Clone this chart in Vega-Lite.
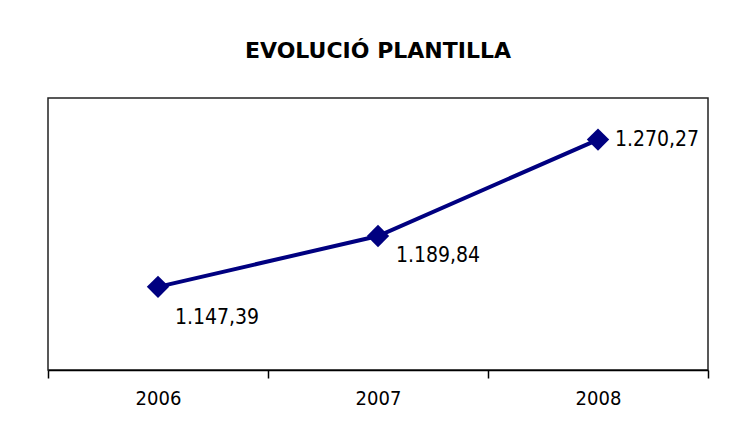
{
  "$schema": "https://vega.github.io/schema/vega-lite/v6.json",
  "width": 660,
  "height": 272,
  "autosize": {"type": "none"},
  "padding": {"left": 48, "top": 98, "right": 27, "bottom": 71},
  "background": "white",
  "title": {
    "text": "EVOLUCIÓ PLANTILLA",
    "anchor": "middle",
    "font": "DejaVu Sans",
    "fontSize": 22,
    "fontWeight": "bold",
    "color": "#000000",
    "offset": 35
  },
  "config": {
    "view": {"stroke": "#222222", "strokeWidth": 1.5},
    "font": "DejaVu Sans Condensed, DejaVu Sans"
  },
  "data": {
    "values": [
      {"year": "2006", "value": 1147.39, "label": "1.147,39"},
      {"year": "2007", "value": 1189.84, "label": "1.189,84"},
      {"year": "2008", "value": 1270.27, "label": "1.270,27"}
    ]
  },
  "encoding": {
    "x": {
      "field": "year",
      "type": "ordinal",
      "scale": {"type": "band", "paddingInner": 0, "paddingOuter": 0},
      "axis": {
        "title": null,
        "labelAngle": 0,
        "tickBand": "extent",
        "domainColor": "#000000",
        "domainWidth": 1.5,
        "tickColor": "#000000",
        "tickWidth": 1.5,
        "tickSize": 8,
        "labelPadding": 10,
        "labelFontSize": 20,
        "labelColor": "#000000",
        "labelFont": "DejaVu Sans Condensed, DejaVu Sans"
      }
    },
    "y": {
      "field": "value",
      "type": "quantitative",
      "scale": {"domain": [1078, 1305], "zero": false, "nice": false},
      "axis": null
    }
  },
  "layer": [
    {"mark": {"type": "line", "color": "#000080", "strokeWidth": 4}},
    {"mark": {"type": "point", "shape": "diamond", "filled": true, "color": "#000080", "size": 500, "opacity": 1}},
    {
      "transform": [{"filter": "datum.year == '2006'"}],
      "mark": {"type": "text", "align": "left", "baseline": "middle", "dx": 17, "dy": 31, "fontSize": 21, "color": "#000000"},
      "encoding": {"text": {"field": "label"}}
    },
    {
      "transform": [{"filter": "datum.year == '2007'"}],
      "mark": {"type": "text", "align": "left", "baseline": "middle", "dx": 18, "dy": 20, "fontSize": 21, "color": "#000000"},
      "encoding": {"text": {"field": "label"}}
    },
    {
      "transform": [{"filter": "datum.year == '2008'"}],
      "mark": {"type": "text", "align": "left", "baseline": "middle", "dx": 17, "dy": 0, "fontSize": 21, "color": "#000000"},
      "encoding": {"text": {"field": "label"}}
    }
  ]
}
